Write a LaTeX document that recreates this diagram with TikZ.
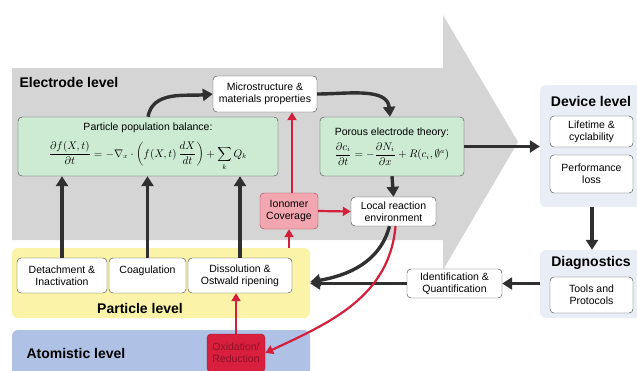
\documentclass[tikz,border=0pt]{standalone}
\usepackage{fontspec}
\setmainfont{Liberation Sans}
\usetikzlibrary{arrows.meta,positioning}
\definecolor{bodygrey}{HTML}{D5D5D5}
\definecolor{eqgreen}{HTML}{CDEBD3}
\definecolor{partyellow}{HTML}{FBF3A8}
\definecolor{atomblue}{HTML}{AFC2E6}
\definecolor{devbg}{HTML}{E9EDF6}
\definecolor{ionpink}{HTML}{F2A7B0}
\definecolor{oxred}{HTML}{D81F3D}
\definecolor{oxtext}{HTML}{8E1227}
\definecolor{arrred}{HTML}{D41F3A}
\definecolor{arrblack}{HTML}{303030}
\tikzset{
  box/.style={draw=black!75, rounded corners=4pt, fill=white, align=center,
    font=\fontsize{10.5}{12}\selectfont, inner sep=2pt},
  eqbox/.style={box, fill=eqgreen},
  panel/.style={rounded corners=6pt, inner sep=0pt},
  lvl/.style={font=\bfseries\fontsize{14}{16}\selectfont},
  blk/.style={arrblack, line width=3.4pt, -{Triangle[length=10pt,width=12pt]}},
  rd/.style={arrred, line width=2.2pt, -{Triangle[length=8pt,width=9pt]}}
}
\begin{document}
\begin{tikzpicture}[x=1pt,y=-1pt]
\useasboundingbox (0,0) rectangle (637,370);
% big grey arrow and level panels
\fill[bodygrey] (12,68) -- (443,68) -- (443,15) -- (518,142) -- (443,270) -- (443,240) -- (12,240) -- cycle;
\node[panel, fill=partyellow, minimum width=298, minimum height=70] (partpanel) at (161,283) {};
\node[panel, fill=atomblue, minimum width=298, minimum height=50] (atompanel) at (161,355) {};
\node[panel, fill=devbg, minimum width=104, minimum height=122] (device) at (592,146) {};
\node[panel, fill=devbg, minimum width=104, minimum height=68] (diag) at (592,284) {};
\node[lvl, anchor=west] (electrode) at (16,82) {Electrode level};
\node[lvl] (partlbl) at (140,308) {Particle level};
\node[lvl, anchor=west] (atomlbl) at (23,353) {Atomistic level};
\node[lvl] (devlbl) at (591,101) {Device level};
\node[lvl] (diaglbl) at (591,263) {Diagnostics};
% boxes
\node[box, minimum width=104, minimum height=36] (micro) at (265,94) {Microstructure \&\\materials properties};
\node[eqbox, minimum width=260, minimum height=59] (ppb) at (148,146.5)
  {Particle population balance:\\[8pt]
   $\displaystyle \frac{\partial f(X,t)}{\partial t} = -\nabla_{x}\cdot\left(f(X,t)\,\frac{dX}{dt}\right) + \sum_{k} Q_k$};
\node[eqbox, align=left, minimum width=144, minimum height=59] (porous) at (392,146.5)
  {Porous electrode theory:\\[4pt]
   $\displaystyle \frac{\partial c_i}{\partial t} = -\frac{\partial N_i}{\partial x} + R(c_i,\emptyset^{a})$};
\node[box, minimum width=85, minimum height=29] (local) at (393.5,211.5) {Local reaction\\environment};
\node[box, fill=ionpink, draw=oxtext!80, minimum width=58, minimum height=36] (iono) at (289,211) {Ionomer\\Coverage};
\node[box, minimum width=90, minimum height=35] (det) at (62,275.5) {Detachment \&\\Inactivation};
\node[box, minimum width=77, minimum height=35] (coag) at (147.5,275.5) {Coagulation\\[0pt]\mbox{}};
\node[box, minimum width=104, minimum height=35] (diss) at (240,275.5) {Dissolution \&\\Ostwald ripening};
\node[box, fill=oxred, draw=oxtext, text=oxtext, minimum width=58, minimum height=38] (oxid) at (236,353) {Oxidation/\\Reduction};
\node[box, minimum width=95, minimum height=29] (ident) at (454.5,283.5) {Identification \&\\Quantification};
\node[box, minimum width=83, minimum height=31] (life) at (591.5,131.5) {Lifetime \&\\cyclability};
\node[box, minimum width=83, minimum height=38] (perf) at (591.5,174) {Performance\\loss};
\node[box, minimum width=83, minimum height=36] (tools) at (591.5,295) {Tools and\\Protocols};
% black connectors
\draw[blk] (ppb.north) to[out=80,in=185] (micro.west);
\draw[blk] (micro.east) to[out=0,in=95] ([xshift=-2pt]porous.north);
\draw[blk] (porous.south) -- (local.north);
\draw[blk] (porous.east) -- (porous.east -| device.west);
\draw[blk] (device.south) -- (diag.north);
\draw[blk] (diag.west |- ident.east) -- (ident.east);
\draw[blk] (ident.west) -- (ident.west -| partpanel.east);
\draw[blk] ([xshift=-4pt]local.south) to[out=-105,in=10] ([yshift=1pt]partpanel.east);
\draw[blk] (det.north) -- (det.north |- ppb.south);
\draw[blk] (coag.north) -- (coag.north |- ppb.south);
\draw[blk] (diss.north) -- (diss.north |- ppb.south);
% red connectors
\draw[rd] (iono.east) -- (local.west);
\draw[rd] (iono.south |- partpanel.north) -- (iono.south);
\draw[rd] ([xshift=3pt]iono.north) -- ([xshift=3pt]iono.north |- micro.south);
\draw[rd] (oxid.north) -- (oxid.north |- diss.south);
\draw[rd] ([xshift=2pt]local.south) to[out=-95,in=25] (oxid.east);
\end{tikzpicture}
\end{document}
